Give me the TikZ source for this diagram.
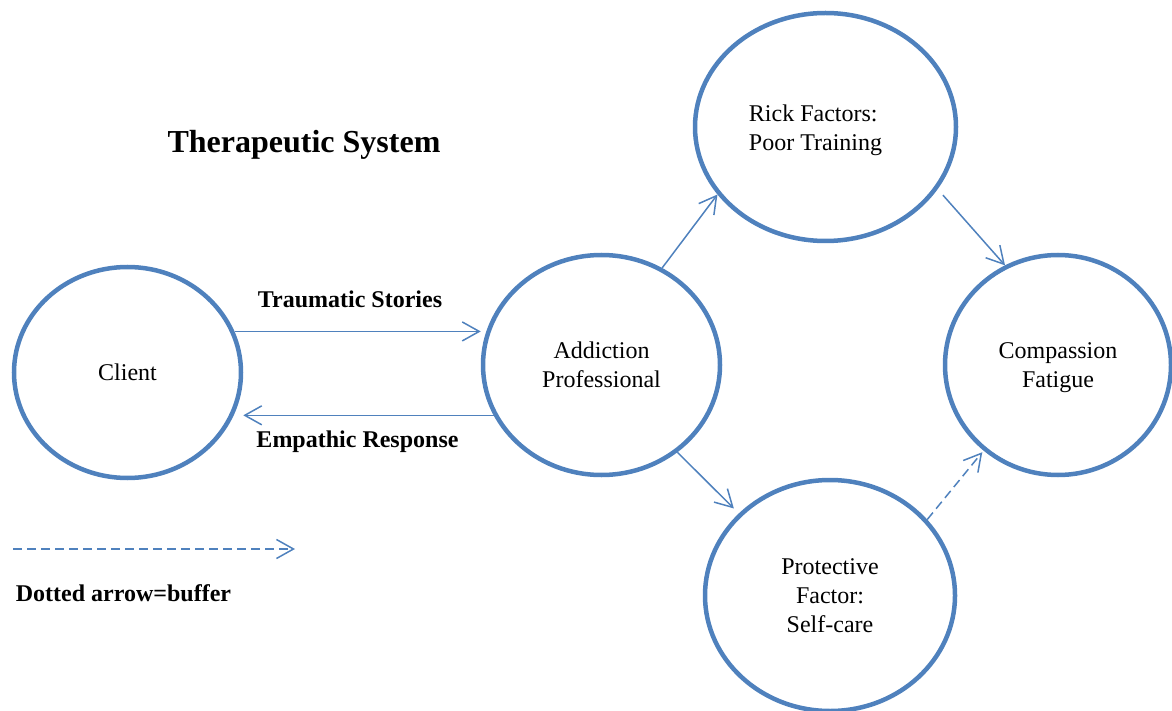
\documentclass[tikz,border=0pt]{standalone}
\usepackage{fontspec}
\setmainfont{Liberation Serif}
\usetikzlibrary{arrows.meta,shapes.geometric}
\definecolor{ofblue}{RGB}{79,129,189}
\begin{document}
\begin{tikzpicture}[x=0.5pt,y=-0.5pt,
  circ/.style={draw=ofblue, line width=2.25pt, ellipse, inner sep=0pt, font=\fontsize{12}{14.5}\selectfont, align=center},
  conn/.style={draw=ofblue, line width=0.75pt, -{Straight Barb[length=8.5pt,width=9.5pt]}},
  buffer/.style={conn, dash pattern=on 4.5pt off 2.5pt},
  lbl/.style={font=\fontsize{12}{14.5}\selectfont\bfseries, anchor=base, inner sep=0pt},
  ttl/.style={font=\fontsize{16}{19}\selectfont\bfseries, anchor=base, inner sep=0pt},
  plain/.style={font=\fontsize{12}{14.5}\selectfont, inner sep=0pt}
]
\useasboundingbox (0,0) rectangle (1172,711);
% circles
\node[circ, minimum width=113.5pt, minimum height=105.5pt] (client) at (127.5,372.5) {Client};
\node[circ, minimum width=118.5pt, minimum height=110pt] (add) at (601.5,365) {Addiction\\Professional};
\node[circ, minimum width=130.5pt, minimum height=114pt] (rick) at (825.5,127) {};
\node[plain, align=left, text depth=0pt] (ricktxt) at (815.5,128) {Rick Factors:\\Poor Training};
\node[circ, minimum width=113pt, minimum height=110pt, text depth=0pt] (comp) at (1058,365) {Compassion\\Fatigue};
\node[circ, minimum width=125pt, minimum height=115.5pt] (prot) at (830,595.5) {Protective\\Factor:\\Self-care};
% labels
\node[ttl] (title) at (304,153) {Therapeutic System};
\node[lbl] (ts) at (350,307) {Traumatic Stories};
\node[lbl] (er) at (357.5,447) {Empathic Response};
\node[lbl] (leg) at (123.5,601) {Dotted arrow=buffer};
% connectors
\draw[conn] (client.21.6) -- (client.21.6 -| add.west);
\draw[conn] (add.205) -- (add.205 -| client.east);
\draw[conn] (add.58) -- (rick.212);
\draw[conn, shorten <=4pt] (rick.331) -- (comp.118.4);
\draw[conn, shorten >=3.5pt] (add.311.3) -- (prot.138.6);
\draw[buffer, shorten >=1pt] (prot.38.7) -- (comp.229.9);
% legend
\coordinate (lgA) at (13,549);
\coordinate (lgB) at (295,549);
\draw[buffer] (lgA) -- (lgB);
\end{tikzpicture}
\end{document}
